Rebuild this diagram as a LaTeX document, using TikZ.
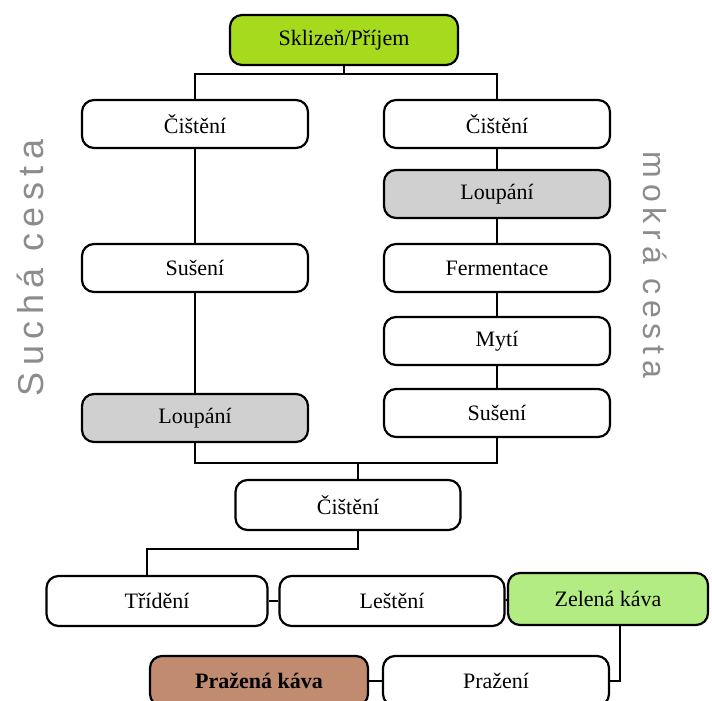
\documentclass[tikz,border=0pt]{standalone}
\usepackage{fontspec}
\setmainfont{Liberation Serif}
\newfontfamily\handfont[LetterSpace=18]{Liberation Sans}
\usepackage{xcolor}
\definecolor{harvgreen}{RGB}{166,218,28}
\definecolor{greencoffee}{RGB}{178,236,130}
\definecolor{roastbrown}{RGB}{192,139,111}
\definecolor{peelgray}{RGB}{208,208,208}
\definecolor{handgray}{RGB}{140,140,140}
\usetikzlibrary{positioning,calc}

\begin{document}
\begin{tikzpicture}[x=1pt,y=-1pt,
    stepbox/.style={draw,line width=2.2pt,rounded corners=12pt,fill=white,
        minimum width=226pt,minimum height=48pt,align=center,
        font=\fontsize{22}{25}\selectfont},
    link/.style={line width=2.2pt},
    hand/.style={text=handgray,font=\handfont\fontsize{36}{40}\selectfont}]
  \useasboundingbox (0,0) rectangle (712,701);
  \clip (0,0) rectangle (712,701);
  % top
  \node[stepbox,fill=harvgreen,minimum width=228pt,minimum height=50pt] (harv) at (344,40) {Sklizeň/Příjem};
  % dry path
  \node[stepbox] (cistL) at (195,124) {Čištění};
  \node[stepbox] (susL) at (195,268) {Sušení};
  \node[stepbox,fill=peelgray] (loupL) at (195,418) {Loupání};
  % wet path
  \node[stepbox] (cistR) at (497,124) {Čištění};
  \node[stepbox,fill=peelgray] (loupR) at (497,194) {Loupání};
  \node[stepbox] (fermR) at (497,268) {Fermentace};
  \node[stepbox] (mytiR) at (497,341) {Mytí};
  \node[stepbox] (susR) at (497,413) {Sušení};
  % common part
  \node[stepbox,minimum width=225pt,minimum height=50pt] (cistM) at (348,505) {Čištění};
  \node[stepbox,minimum width=221pt,minimum height=50pt] (trid) at (157,601) {Třídění};
  \node[stepbox,minimum width=225pt,minimum height=50pt] (lest) at (392,601) {Leštění};
  \node[stepbox,fill=greencoffee,minimum width=200pt,minimum height=52pt] (zel) at (608,599) {Zelená káva};
  \node[stepbox,minimum width=226pt,minimum height=50pt] (praz) at (496,681) {Pražení};
  \node[stepbox,fill=roastbrown,minimum width=218pt,minimum height=50pt,
        font=\fontsize{22}{25}\selectfont\bfseries] (przk) at (259,681) {Pražená káva};
  % handwritten notes
  \node[hand,rotate=90] (dry) at (30,268) {Suchá cesta};
  \node[hand,rotate=-90,font=\handfont\fontsize{32}{36}\selectfont] (wet) at (655,265) {mokrá cesta};
  % connectors
  \draw[link] (cistL.north) -- ++(0,-25) -| (harv.south);
  \draw[link] (cistR.north) -- ++(0,-25) -| (harv.south);
  \draw[link] (cistL) -- (susL);
  \draw[link] (susL) -- (loupL);
  \draw[link] (cistR) -- (loupR);
  \draw[link] (loupR) -- (fermR);
  \draw[link] (fermR) -- (mytiR);
  \draw[link] (mytiR) -- (susR);
  \draw[link] (loupL.south) -- ++(0,20) -| ([xshift=10pt]cistM.north);
  \draw[link] (susR.south) -- ++(0,25) -| ([xshift=10pt]cistM.north);
  \draw[link] ([xshift=10pt]cistM.south) -- ++(0,18) -| ([xshift=-10pt]trid.north);
  \draw[link] (trid) -- (lest);
  \draw[link] (lest) -- (zel);
  \draw[link] ([xshift=12pt]zel.south) |- (praz.east);
  \draw[link] (praz) -- (przk);
\end{tikzpicture}
\end{document}
